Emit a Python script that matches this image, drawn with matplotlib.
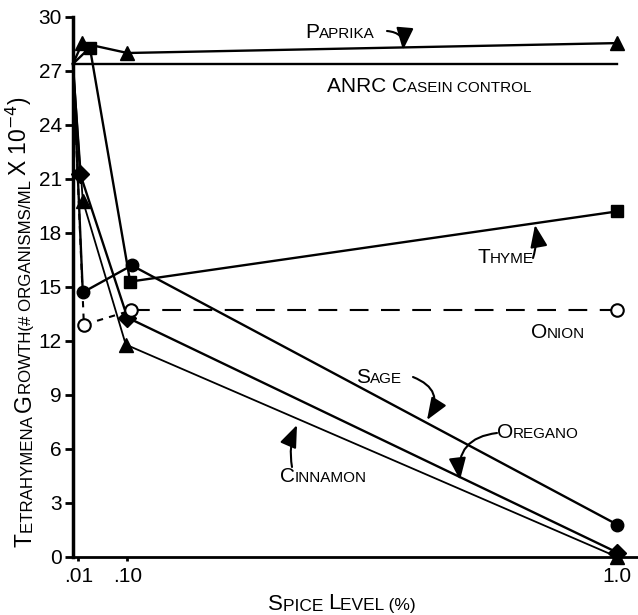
import matplotlib
matplotlib.use('Agg')
import matplotlib.pyplot as plt

plt.rcParams['font.family'] = ['Liberation Sans', 'DejaVu Sans']

# data (x = spice level %, y = growth x 10^-4)
control_x = [0.0, 1.0]
control_y = [27.4, 27.4]
paprika_x = [0.0, 0.017, 0.10, 1.0]
paprika_y = [27.4, 28.55, 28.0, 28.55]
thyme_x = [0.0, 0.031, 0.105, 1.0]
thyme_y = [27.4, 28.3, 15.3, 19.2]
sage_x = [0.0, 0.018, 0.108, 1.0]
sage_y = [27.4, 14.7, 16.2, 1.8]
onion_x = [0.0, 0.02, 0.107, 1.0]
onion_y = [27.4, 12.9, 13.7, 13.7]
oregano_x = [0.0, 0.013, 0.10, 1.0]
oregano_y = [27.4, 21.3, 13.3, 0.25]
cinnamon_x = [0.0, 0.018, 0.097, 1.0]
cinnamon_y = [27.4, 19.8, 11.8, 0.0]

xticks = [0.01, 0.10, 1.0]
xticklabels = ['.01', '.10', '1.0']
yticks = list(range(0, 31, 3))

W, H = 638, 615
BIG, SMALL = 15, 11

fig = plt.figure(figsize=(W / 100, H / 100), dpi=100)
ax = fig.add_axes([73 / W, 1 - 557 / H, 566 / W, 540 / H])

lw = 1.7
ms = 9
mk = [1, 2, 3]
ax.plot(control_x, control_y, color='k', lw=lw)
ax.plot(paprika_x, paprika_y, color='k', lw=lw, marker='^', ms=ms + 1, markevery=mk, clip_on=False)
ax.plot(thyme_x, thyme_y, color='k', lw=lw, marker='s', ms=ms, markevery=mk, clip_on=False)
ax.plot(sage_x, sage_y, color='k', lw=lw, marker='o', ms=ms, markevery=mk, clip_on=False)
ax.plot(oregano_x, oregano_y, color='k', lw=lw, marker='D', ms=ms, markevery=mk, clip_on=False)
ax.plot(cinnamon_x, cinnamon_y, color='k', lw=1.3, marker='^', ms=ms + 1, markevery=mk, clip_on=False)
# onion: short dashes to .10, long dashes after
ax.plot(onion_x[:3], onion_y[:3], color='k', lw=1.5, ls=(0, (3, 3)))
ax.plot(onion_x[2:], onion_y[2:], color='k', lw=1.5, ls=(0, (9, 6)))
ax.plot(onion_x[1:], onion_y[1:], ls='none', marker='o', ms=ms, mfc='white', mec='k', mew=1.5, clip_on=False)

ax.set_xlim(0, 1.04)
ax.set_ylim(0, 30)
ax.spines['top'].set_visible(False)
ax.spines['right'].set_visible(False)
ax.spines['left'].set_linewidth(2.5)
ax.spines['bottom'].set_linewidth(2)
ax.set_yticks(yticks)
ax.set_yticklabels([str(v) for v in yticks], fontsize=15)
ax.set_xticks(xticks)
ax.set_xticklabels(xticklabels, fontsize=15)
ax.tick_params(axis='y', direction='out', length=6, width=2, pad=2)
ax.tick_params(axis='x', direction='out', length=3, width=2, pad=4)


def smallcaps(parts, x, y, rotation=0):
    # parts: (text, size) pieces chained one after another, baseline at (x, y) top-origin px
    prev = None
    for txt, size in parts:
        if prev is None:
            if rotation:
                prev = ax.annotate(txt, xy=(x, H - y), xycoords='figure pixels', fontsize=size,
                                   rotation=90, ha='right', va='bottom')
            else:
                prev = ax.annotate(txt, xy=(x, H - y), xycoords='figure pixels', fontsize=size,
                                   ha='left', va='baseline')
            first = size
        else:
            off = (first - size) * 0.21
            if rotation:
                prev = ax.annotate(txt, xy=(1, 1), xycoords=prev, xytext=(-off, 0),
                                   textcoords='offset points', fontsize=size,
                                   rotation=90, ha='right', va='bottom')
            else:
                prev = ax.annotate(txt, xy=(1, 0), xycoords=prev, xytext=(0, off),
                                   textcoords='offset points', fontsize=size,
                                   ha='left', va='bottom')


def arrow(tail, tip, rad):
    ax.annotate('', xy=(tip[0], H - tip[1]), xytext=(tail[0], H - tail[1]),
                xycoords='figure pixels', textcoords='figure pixels',
                arrowprops=dict(arrowstyle='-|>,head_length=0.9,head_width=0.35', color='k',
                                lw=1.5, shrinkA=0, shrinkB=0, mutation_scale=15,
                                connectionstyle='arc3,rad=%s' % rad))


smallcaps([('P', BIG), ('APRIKA', SMALL)], 305, 38)
smallcaps([('ANRC C', BIG), ('ASEIN CONTROL', SMALL)], 327, 92)
smallcaps([('T', BIG), ('HYME', SMALL)], 477, 263)
smallcaps([('O', BIG), ('NION', SMALL)], 531, 338)
smallcaps([('S', BIG), ('AGE', SMALL)], 356, 383)
smallcaps([('O', BIG), ('REGANO', SMALL)], 497, 438)
smallcaps([('C', BIG), ('INNAMON', SMALL)], 280, 482)
smallcaps([('S', 16), ('PICE ', 12.5), ('L', 16), ('EVEL (%)', 12.5)], 268, 610)
smallcaps([('T', 16.5), ('ETRAHYMENA ', 12.2), ('G', 16.5), ('ROWTH(# ORGANISMS/ML ', 12.2),
           ('X 10$^{-4}$)', 16.5)], 37, 547, rotation=90)

arrow((387, 31), (403, 50), -0.5)
arrow((533, 258), (535, 225), 0.12)
arrow((413, 377), (427, 420), -0.6)
arrow((497, 433), (460, 480), 0.5)
arrow((292, 467), (297, 425), -0.15)

fig.savefig('out.png', dpi=100)
